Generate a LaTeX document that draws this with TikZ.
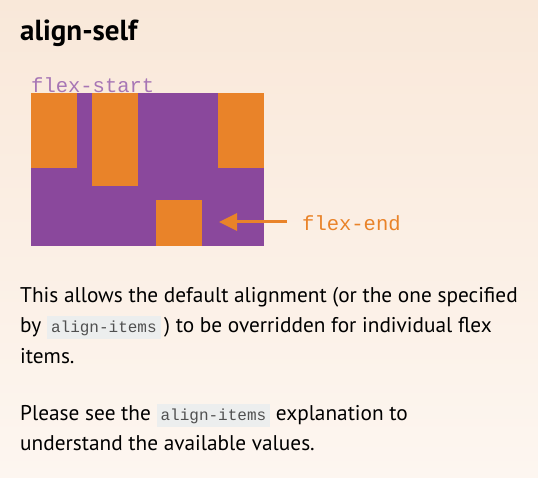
\documentclass[tikz,border=0pt]{standalone}
\usepackage{fontspec}
\setmainfont{PT Sans}
\setmonofont{Liberation Mono}
\usetikzlibrary{arrows.meta}

\definecolor{boxpurple}{RGB}{138,72,156}
\definecolor{itemorange}{RGB}{233,131,41}
\definecolor{pagetop}{RGB}{249,232,217}
\definecolor{pagebottom}{RGB}{253,246,240}
\definecolor{chipgray}{RGB}{236,238,238}
\definecolor{codegray}{RGB}{80,80,80}

\newcommand{\codechip}[1]{{\setlength{\fboxsep}{4pt}\colorbox{chipgray}{\fontsize{16}{16}\selectfont\ttfamily\color{codegray}#1}}}

\tikzset{
    item/.style={fill=itemorange, inner sep=0pt, anchor=north west, minimum width=46pt},
    bodytext/.style={anchor=base west, inner sep=0pt, font=\fontsize{21.3}{30}\selectfont},
    monolabel/.style={anchor=base west, inner sep=0pt, font=\fontsize{20.5}{20}\selectfont\ttfamily},
}

\begin{document}
\begin{tikzpicture}[x=1pt, y=-1pt]
    \shade[top color=pagetop, bottom color=pagebottom] (0,0) rectangle (538,478);
    \useasboundingbox (0,0) rectangle (538,478);

    \node[anchor=base west, inner sep=0pt, font=\fontsize{29}{29}\selectfont\bfseries] (title) at (20,41) {align-self};

    % container and its items
    \fill[boxpurple] (31,93) rectangle (264,246);
    \node[item, minimum height=75pt] (itemA) at (31,93) {};
    \node[item, minimum height=93pt] (itemB) at (92,93) {};
    \node[item, minimum height=46pt] (itemC) at (156,200) {};
    \node[item, minimum height=75pt] (itemD) at (218,93) {};

    \node[monolabel, text=boxpurple!75!white] (startlabel) at (31,93) {flex-start};
    \node[monolabel, text=itemorange] (endlabel) at (302,231) {flex-end};

    \coordinate (tail) at (287,222);
    \coordinate (tip) at (219,222);
    \draw[itemorange, line width=3pt, -{Triangle[length=18pt, width=17pt]}] (tail) -- (tip);

    \node[bodytext] (lineA) at (20,302) {This allows the default alignment (or the one specified};
    \node[bodytext] (lineB) at (20,332) {by \codechip{align-items}\,) to be overridden for individual flex};
    \node[bodytext] (lineC) at (20,363) {items.};

    \node[bodytext] (lineD) at (20,420) {Please see the \codechip{align-items}\ explanation to};
    \node[bodytext] (lineE) at (20,450) {understand the available values.};
\end{tikzpicture}
\end{document}
